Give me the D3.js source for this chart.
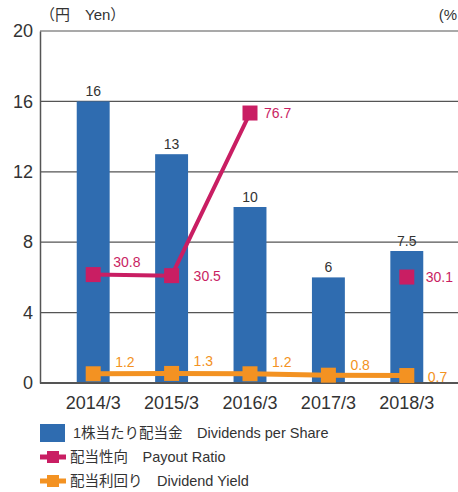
<!DOCTYPE html>
<html>
<head>
<meta charset="utf-8">
<script src="https://cdn.jsdelivr.net/npm/d3@7"></script>
<style>
  body { margin: 0; background: #fff; }
  text { font-family: 'Liberation Sans', Arial, 'Noto Sans CJK JP', sans-serif; }
</style>
</head>
<body>
<script>
  const years = ['2014/3', '2015/3', '2016/3', '2017/3', '2018/3'];
  const dividends = [16, 13, 10, 6, 7.5];
  const dividendLabels = ['16', '13', '10', '6', '7.5'];
  const payoutRatio = [30.8, 30.5, 76.7, null, 30.1];
  const dividendYield = [1.2, 1.3, 1.2, 0.8, 0.7];
  const yenTicks = [0, 4, 8, 12, 16, 20];

  const width = 458;
  const height = 492;
  const margin = { top: 31, right: 0, bottom: 109, left: 40 };
  const baseY = height - margin.bottom;

  const blue = '#2f6cb0';
  const magenta = '#c91e63';
  const orange = '#f39222';
  const textColor = '#333';

  const svg = d3.select('body')
    .append('svg')
    .attr('width', width)
    .attr('height', height);

  const xScale = d3.scaleBand()
    .domain(years)
    .range([54, 446])
    .paddingInner(0.58)
    .paddingOuter(0.29);

  const cx = (d) => xScale(d) + xScale.bandwidth() / 2;

  const yYen = d3.scaleLinear()
    .domain([0, 20])
    .range([baseY, margin.top]);

  const yPct = d3.scaleLinear()
    .domain([0, 100])
    .range([baseY, margin.top]);

  // yield markers sit a little above the baseline in the original
  const yYield = d3.scaleLinear()
    .domain([0, 100])
    .range([baseY - 5, margin.top - 5]);

  // grid lines
  svg.append('g')
    .selectAll('line')
    .data(yenTicks.filter((d) => d > 0))
    .join('line')
    .attr('x1', margin.left)
    .attr('x2', width)
    .attr('y1', (d) => yYen(d))
    .attr('y2', (d) => yYen(d))
    .attr('stroke', '#555')
    .attr('stroke-width', 1.2);

  // left axis
  const yAxis = svg.append('g')
    .attr('transform', `translate(${margin.left},0)`)
    .call(d3.axisLeft(yYen).tickValues(yenTicks).tickSize(0).tickPadding(7));
  yAxis.select('.domain').attr('stroke', '#555').attr('stroke-width', 1.5);
  yAxis.selectAll('text')
    .attr('font-size', 18)
    .attr('fill', textColor)
    .style('font-family', "'Liberation Sans', Arial, sans-serif");

  // bars
  svg.append('g')
    .selectAll('rect')
    .data(years)
    .join('rect')
    .attr('x', (d) => xScale(d))
    .attr('width', xScale.bandwidth())
    .attr('y', (d, i) => yYen(dividends[i]))
    .attr('height', (d, i) => baseY - yYen(dividends[i]))
    .attr('fill', blue);

  svg.append('g')
    .selectAll('text')
    .data(years)
    .join('text')
    .attr('x', cx)
    .attr('y', (d, i) => yYen(dividends[i]) - 5)
    .attr('text-anchor', 'middle')
    .attr('font-size', 14)
    .attr('fill', textColor)
    .text((d, i) => dividendLabels[i]);

  // baseline
  svg.append('line')
    .attr('x1', margin.left)
    .attr('x2', width)
    .attr('y1', baseY)
    .attr('y2', baseY)
    .attr('stroke', '#555')
    .attr('stroke-width', 2);

  // x axis labels
  const xAxis = svg.append('g')
    .attr('transform', `translate(0,${baseY})`)
    .call(d3.axisBottom(xScale).tickSize(0).tickPadding(13));
  xAxis.select('.domain').remove();
  xAxis.selectAll('text')
    .attr('font-size', 18)
    .attr('fill', textColor)
    .style('font-family', "'Liberation Sans', Arial, sans-serif");

  // payout ratio line
  const payoutData = years.map((d, i) => ({ year: d, v: payoutRatio[i] }));
  const payoutLine = d3.line()
    .defined((d) => d.v != null)
    .x((d) => cx(d.year))
    .y((d) => yPct(d.v));

  svg.append('path')
    .datum(payoutData)
    .attr('d', payoutLine)
    .attr('fill', 'none')
    .attr('stroke', magenta)
    .attr('stroke-width', 4);

  svg.append('g')
    .selectAll('rect')
    .data(payoutData.filter((d) => d.v != null))
    .join('rect')
    .attr('x', (d) => cx(d.year) - 7.5)
    .attr('y', (d) => yPct(d.v) - 7.5)
    .attr('width', 15)
    .attr('height', 15)
    .attr('fill', magenta);

  const payoutLabelOffset = [[20, -8], [22, 5], [14, 5], [0, 0], [19, 5]];
  svg.append('g')
    .selectAll('text')
    .data(payoutData.filter((d) => d.v != null))
    .join('text')
    .attr('x', (d) => cx(d.year) + payoutLabelOffset[years.indexOf(d.year)][0])
    .attr('y', (d) => yPct(d.v) + payoutLabelOffset[years.indexOf(d.year)][1])
    .attr('font-size', 14)
    .attr('fill', magenta)
    .text((d) => d.v.toFixed(1));

  // dividend yield line
  const yieldData = years.map((d, i) => ({ year: d, v: dividendYield[i] }));
  const yieldLine = d3.line()
    .x((d) => cx(d.year))
    .y((d) => yYield(d.v));

  svg.append('path')
    .datum(yieldData)
    .attr('d', yieldLine)
    .attr('fill', 'none')
    .attr('stroke', orange)
    .attr('stroke-width', 5);

  svg.append('g')
    .selectAll('rect')
    .data(yieldData)
    .join('rect')
    .attr('x', (d) => cx(d.year) - 7.5)
    .attr('y', (d) => yYield(d.v) - 7.5)
    .attr('width', 15)
    .attr('height', 15)
    .attr('fill', orange);

  const yieldLabelOffset = [[22, -7], [22, -7], [22, -7], [22, -5], [21, 6]];
  svg.append('g')
    .selectAll('text')
    .data(yieldData)
    .join('text')
    .attr('x', (d, i) => cx(d.year) + yieldLabelOffset[i][0])
    .attr('y', (d, i) => yYield(d.v) + yieldLabelOffset[i][1])
    .attr('font-size', 14)
    .attr('fill', orange)
    .text((d) => d.v.toFixed(1));

  // unit labels
  svg.append('text')
    .attr('x', 40)
    .attr('y', 20)
    .attr('font-size', 15)
    .attr('fill', textColor)
    .text('（円　Yen）');

  svg.append('text')
    .attr('x', 457)
    .attr('y', 20)
    .attr('text-anchor', 'end')
    .attr('font-size', 15)
    .attr('fill', textColor)
    .text('(%');

  // legend
  const legendItems = [
    { type: 'bar', color: blue, label: '1株当たり配当金　Dividends per Share' },
    { type: 'line', color: magenta, label: '配当性向　Payout Ratio' },
    { type: 'line', color: orange, label: '配当利回り　Dividend Yield' },
  ];

  const legend = svg.append('g')
    .selectAll('g')
    .data(legendItems)
    .join('g')
    .attr('transform', (d, i) => `translate(40,${433 + i * 24})`);

  legend.filter((d) => d.type === 'bar')
    .append('rect')
    .attr('x', 0)
    .attr('y', -9)
    .attr('width', 25)
    .attr('height', 18)
    .attr('fill', (d) => d.color);

  const lineItems = legend.filter((d) => d.type === 'line');
  lineItems.append('line')
    .attr('x1', 0)
    .attr('x2', 26)
    .attr('y1', 0)
    .attr('y2', 0)
    .attr('stroke', (d) => d.color)
    .attr('stroke-width', 5);
  lineItems.append('rect')
    .attr('x', 7)
    .attr('y', -6)
    .attr('width', 12)
    .attr('height', 12)
    .attr('fill', (d) => d.color);

  legend.append('text')
    .attr('x', (d) => (d.type === 'bar' ? 33 : 30))
    .attr('y', 5)
    .attr('font-size', 14.5)
    .attr('fill', textColor)
    .text((d) => d.label);
</script>
</body>
</html>
